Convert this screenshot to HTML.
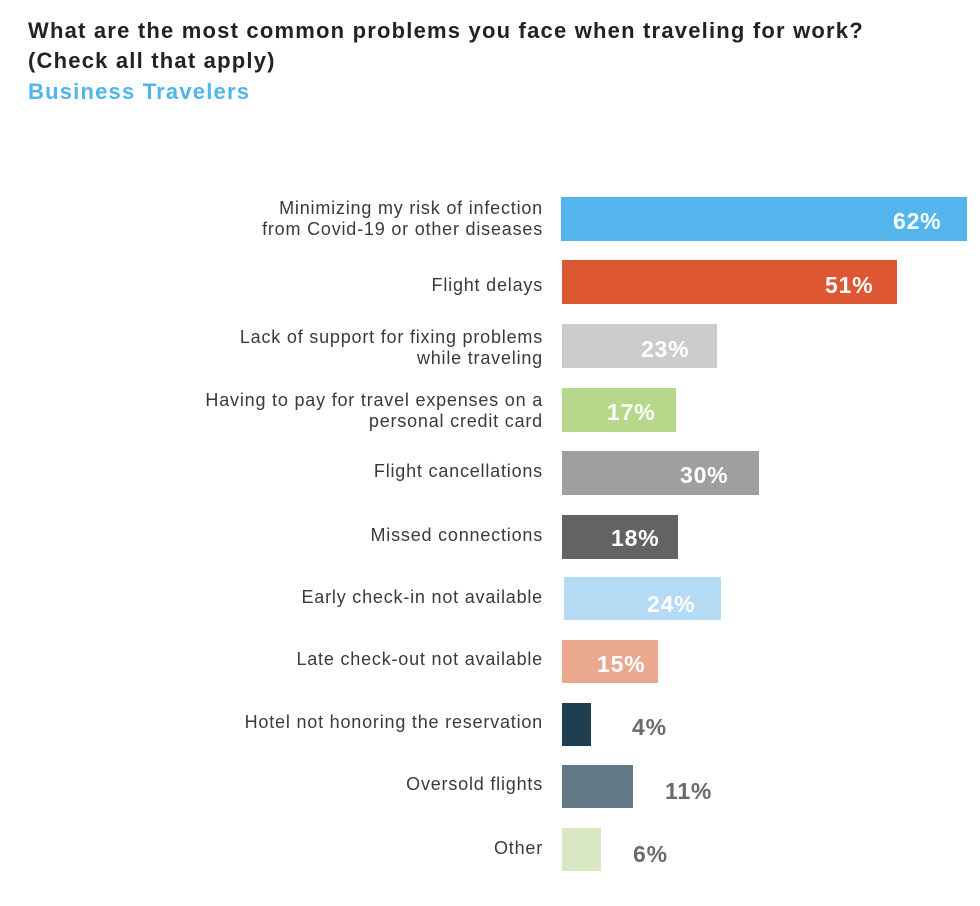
<!DOCTYPE html>
<html><head><meta charset="utf-8"><style>
body{margin:0;width:980px;height:906px;background:#fff;position:relative;font-family:"Liberation Sans",sans-serif;overflow:hidden}
.t{position:absolute;left:28px;font-weight:bold;font-size:22px;color:#222;line-height:30px;letter-spacing:1.2px;white-space:nowrap}
.l{position:absolute;right:437px;text-align:right;font-size:18px;color:#3a3a3a;line-height:21px;white-space:nowrap;letter-spacing:0.8px}
.b{position:absolute;left:562px;height:44px}
.v{position:absolute;font-weight:bold;font-size:23px;line-height:26px;color:#fff;letter-spacing:0.8px}
.g{color:#6a6a6a}
</style></head><body>
<div class="t" style="top:16px">What are the most common problems you face when traveling for work?</div>
<div class="t" style="top:46px">(Check all that apply)</div>
<div class="t" style="top:77px;color:#4fb5ea">Business Travelers</div>

<div class="l" style="top:198px">Minimizing my risk of infection<br>from Covid-19 or other diseases</div>
<div class="b" style="left:561px;top:197px;width:406px;background:#53b5ec"></div>
<div class="v" style="left:893px;top:208px">62%</div>

<div class="l" style="top:275px">Flight delays</div>
<div class="b" style="top:260px;width:335px;background:#dd5733"></div>
<div class="v" style="left:825px;top:272px">51%</div>

<div class="l" style="top:327px">Lack of support for fixing problems<br>while traveling</div>
<div class="b" style="top:324px;width:155px;background:#cbcccd"></div>
<div class="v" style="left:641px;top:336px">23%</div>

<div class="l" style="top:390px">Having to pay for travel expenses on a<br>personal credit card</div>
<div class="b" style="top:388px;width:114px;background:#b7d78b"></div>
<div class="v" style="left:607px;top:399px">17%</div>

<div class="l" style="top:461px">Flight cancellations</div>
<div class="b" style="top:451px;width:197px;background:#9f9fa0"></div>
<div class="v" style="left:680px;top:462px">30%</div>

<div class="l" style="top:525px">Missed connections</div>
<div class="b" style="top:515px;width:116px;background:#646263"></div>
<div class="v" style="left:611px;top:525px">18%</div>

<div class="l" style="top:587px">Early check-in not available</div>
<div class="b" style="left:564px;top:577px;width:157px;height:43px;background:#b5dbf4"></div>
<div class="v" style="left:647px;top:591px">24%</div>

<div class="l" style="top:649px">Late check-out not available</div>
<div class="b" style="top:640px;width:96px;height:43px;background:#eaa88f"></div>
<div class="v" style="left:597px;top:651px">15%</div>

<div class="l" style="top:712px">Hotel not honoring the reservation</div>
<div class="b" style="top:703px;width:29px;height:43px;background:#1f3e51"></div>
<div class="v g" style="left:632px;top:714px">4%</div>

<div class="l" style="top:774px">Oversold flights</div>
<div class="b" style="top:765px;width:71px;height:43px;background:#637a86"></div>
<div class="v g" style="left:665px;top:778px">11%</div>

<div class="l" style="top:838px">Other</div>
<div class="b" style="top:828px;width:39px;height:43px;background:#d9e8c3"></div>
<div class="v g" style="left:633px;top:841px">6%</div>
</body></html>
